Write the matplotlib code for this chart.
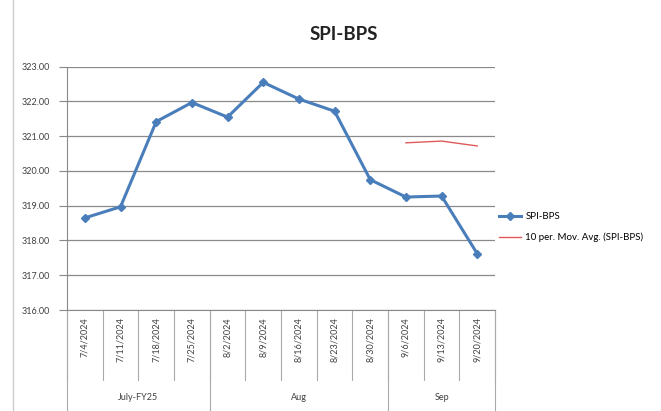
"""SPI-BPS weekly values with a 10-period moving average, Excel-style."""
import matplotlib
matplotlib.use("Agg")
import matplotlib.pyplot as plt
from matplotlib.lines import Line2D

DATES = ["7/4/2024", "7/11/2024", "7/18/2024", "7/25/2024", "8/2/2024",
         "8/9/2024", "8/16/2024", "8/23/2024", "8/30/2024", "9/6/2024",
         "9/13/2024", "9/20/2024"]
SPI_BPS = [318.65, 318.97, 321.42, 321.97, 321.55, 322.55, 322.07, 321.72,
           319.75, 319.25, 319.28, 317.62]
MOV_AVG = [None] * 9 + [320.81, 320.86, 320.72]
GROUPS = ["July-FY25", "Aug", "Sep"]
GROUP_SIZES = [4, 5, 3]
Y_TICKS = [316, 317, 318, 319, 320, 321, 322, 323]

plt.rcParams["font.family"] = ["Lato", "DejaVu Sans"]


def main():
    fig = plt.figure(figsize=(6.61, 4.11), dpi=100)
    ax = fig.add_axes([0.1014, 0.2457, 0.6476, 0.592])

    x = list(range(len(DATES)))
    ax.plot(x, SPI_BPS, color="#4A7EBB", lw=2.2, marker="D", ms=4.5,
            label="SPI-BPS", zorder=3)
    ma_x = [i for i, v in zip(x, MOV_AVG) if v is not None]
    ma_y = [v for v in MOV_AVG if v is not None]
    ax.plot(ma_x, ma_y, color="#E05A5A", lw=1.0,
            label="10 per. Mov. Avg. (SPI-BPS)", zorder=2)

    ax.set_xlim(-0.5, len(DATES) - 0.5)
    ax.set_ylim(316, 323)
    ax.set_yticks(Y_TICKS)
    ax.set_yticklabels([f"{v:.2f}" for v in Y_TICKS], fontsize=6.5,
                       color="#404040")
    ax.tick_params(axis="y", length=6, color="#888888", pad=6)
    ax.yaxis.grid(True, color="#8a8a8a", lw=0.9)
    ax.set_axisbelow(True)
    ax.set_xticks([])
    for side in ["top", "right"]:
        ax.spines[side].set_visible(False)
    ax.spines["bottom"].set_color("#8a8a8a")
    ax.spines["left"].set_color("#8a8a8a")

    # multi-level category axis
    tr = ax.get_xaxis_transform()
    for i, d in enumerate(DATES):
        ax.text(i, -0.03, d, transform=tr, rotation=90, ha="center",
                va="top", fontsize=6.5, color="#404040")
    for b in range(len(DATES) + 1):
        ax.plot([b - 0.5, b - 0.5], [0, -0.288], transform=tr,
                color="#aaaaaa", lw=0.8, clip_on=False)
    start = 0
    for g, n in zip(GROUPS, GROUP_SIZES):
        mid = start + (n - 1) / 2
        ax.text(mid, -0.36, g, transform=tr, ha="center", va="center",
                fontsize=6.5, color="#404040")
        ax.plot([start - 0.5, start - 0.5], [0, -0.5], transform=tr,
                color="#aaaaaa", lw=0.8, clip_on=False)
        start += n
    ax.plot([start - 0.5, start - 0.5], [0, -0.5], transform=tr,
            color="#aaaaaa", lw=0.8, clip_on=False)

    fig.text(0.52, 0.915, "SPI-BPS", ha="center", va="center",
             fontsize=13.5, fontweight="bold", color="#222222")
    fig.legend(loc="upper left", bbox_to_anchor=(0.742, 0.505), frameon=False,
               fontsize=7.0, handlelength=2.2, handletextpad=0.5,
               labelspacing=1.2)
    fig.add_artist(Line2D([0.019, 0.019], [0, 1], color="#cccccc", lw=1))

    fig.savefig("out.png", dpi=100)


if __name__ == "__main__":
    main()
